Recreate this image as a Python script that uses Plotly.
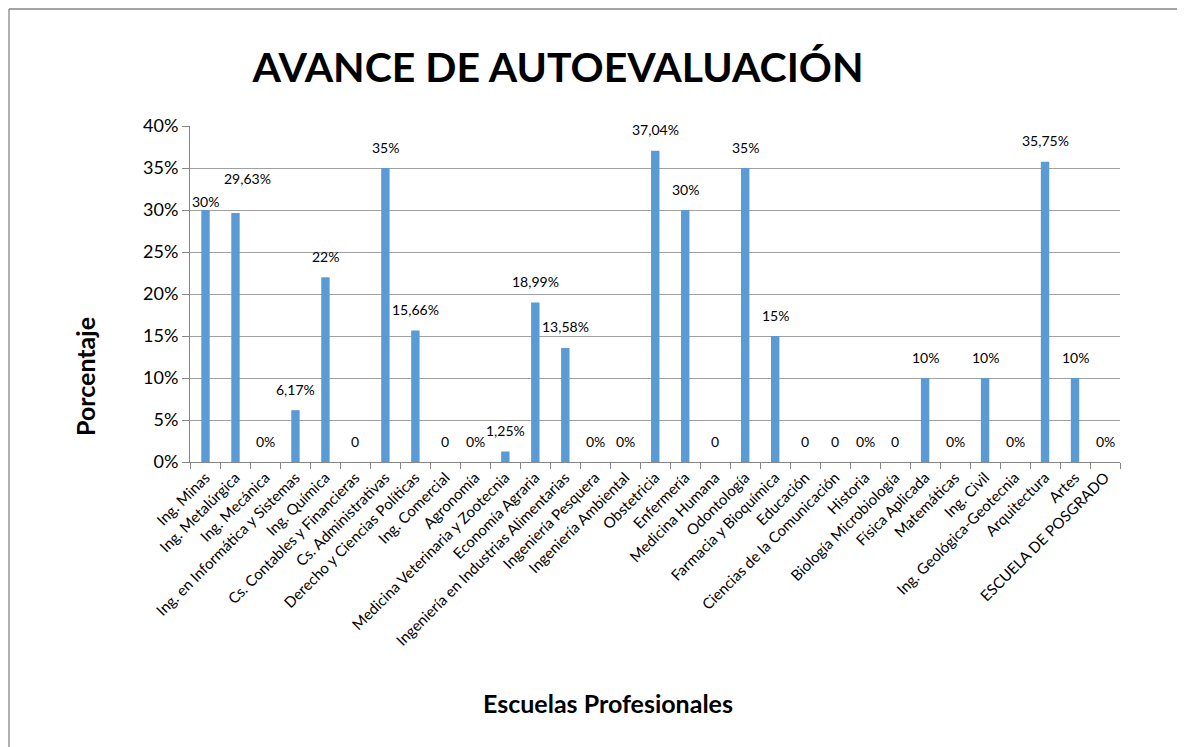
import plotly.graph_objects as go

categories = [
    "Ing. Minas", "Ing. Metalúrgica", "Ing. Mecánica", "Ing. en Informática y Sistemas",
    "Ing. Química", "Cs. Contables y Financieras", "Cs. Administrativas",
    "Derecho y Ciencias Políticas", "Ing. Comercial", "Agronomía",
    "Medicina Veterinaria y Zootecnia", "Economía Agraria",
    "Ingeniería en Industrias Alimentarias", "Ingeniería Pesquera", "Ingeniería Ambiental",
    "Obstetricia", "Enfermería", "Medicina Humana", "Odontología", "Farmacia y Bioquímica",
    "Educación", "Ciencias de la Comunicación", "Historia", "Biología Microbiología",
    "Física Aplicada", "Matemáticas", "Ing. Civil", "Ing. Geológica-Geotecnia",
    "Arquitectura", "Artes", "ESCUELA DE POSGRADO",
]
values = [
    30, 29.63, 0, 6.17, 22, 0, 35, 15.66, 0, 0, 1.25, 18.99, 13.58, 0, 0,
    37.04, 30, 0, 35, 15, 0, 0, 0, 0, 10, 0, 10, 0, 35.75, 10, 0,
]
labels = [
    "30%", "29,63%", "0%", "6,17%", "22%", "0", "35%", "15,66%", "0", "0%", "1,25%",
    "18,99%", "13,58%", "0%", "0%", "37,04%", "30%", "0", "35%", "15%", "0", "0",
    "0%", "0", "10%", "0%", "10%", "0%", "35,75%", "10%", "0%",
]
y_ticks = [0, 5, 10, 15, 20, 25, 30, 35, 40]
y_tick_text = ["0%", "5%", "10%", "15%", "20%", "25%", "30%", "35%", "40%"]

# label offsets (pixels) — style, not data
label_yshift = [9, 35] + [21] * (len(categories) - 2)
label_xshift = [0, 12] + [0] * (len(categories) - 2)

FONT = "Lato, 'Open Sans', sans-serif"
GRID = "#A0A0A0"
AXIS = "#868686"
OFF = 8  # page body margin

W, H = 1185, 747
L, R, T, B = 190 - OFF, W - (1120 - OFF), 126 - OFF, H - (462 - OFF)
pw, ph = W - L - R, H - T - B

def px(xp):
    return (xp - OFF - L) / pw

def py(yp):
    return (H - B - (yp - OFF)) / ph

fig = go.Figure(go.Bar(
    x=categories, y=values, marker=dict(color="#5B9BD5", line=dict(width=0)),
    hoverinfo="skip",
))

for c, v, t, ys, xs in zip(categories, values, labels, label_yshift, label_xshift):
    fig.add_annotation(x=c, y=v, text=t, showarrow=False, yshift=ys, xshift=xs,
                       font=dict(family=FONT, size=14, color="#000000"))

fig.add_annotation(xref="paper", yref="paper", x=px(85), y=py(377), text="<b>Porcentaje</b>",
                   xanchor="center", yanchor="middle",
                   textangle=-90, showarrow=False, font=dict(family=FONT, size=25, color="#000"))
fig.add_annotation(xref="paper", yref="paper", x=px(608), y=py(703), text="<b>Escuelas Profesionales</b>",
                   xanchor="center", yanchor="middle",
                   showarrow=False, font=dict(family=FONT, size=25, color="#000"))

# outer frame: left and top edges
fig.add_shape(type="line", xref="paper", yref="paper", x0=px(9), y0=py(780), x1=px(9), y1=py(9),
              line=dict(color=AXIS, width=1.3), layer="below")
fig.add_shape(type="line", xref="paper", yref="paper", x0=px(9), y0=py(9), x1=px(1220), y1=py(9),
              line=dict(color=AXIS, width=1.3), layer="below")

fig.update_layout(
    width=W, height=H,
    margin=dict(l=L, r=R, t=T, b=B, autoexpand=False),
    paper_bgcolor="white", plot_bgcolor="white",
    bargap=0.72, showlegend=False,
    title=dict(text="<b>AVANCE DE AUTOEVALUACIÓN</b>", x=(558 - OFF) / W, xanchor="center",
               y=1 - (68 - OFF) / H, yanchor="middle", font=dict(family=FONT, size=41, color="#000")),
    font=dict(family=FONT, color="#000"),
)
fig.update_xaxes(
    type="category", tickangle=-45, tickfont=dict(family=FONT, size=15, color="#000"),
    showline=True, linecolor=AXIS, linewidth=1, ticks="outside", tickson="boundaries",
    ticklen=6, tickcolor=AXIS, showgrid=False, automargin=False,
)
fig.update_yaxes(
    range=[0, 40], tickvals=y_ticks, ticktext=y_tick_text,
    tickfont=dict(family=FONT, size=18, color="#000"),
    showline=True, linecolor=AXIS, linewidth=1, ticks="outside", ticklen=7, tickcolor=AXIS,
    showgrid=True, gridcolor=GRID, gridwidth=1.3, zeroline=False, automargin=False,
)

fig.write_html("out.html")
